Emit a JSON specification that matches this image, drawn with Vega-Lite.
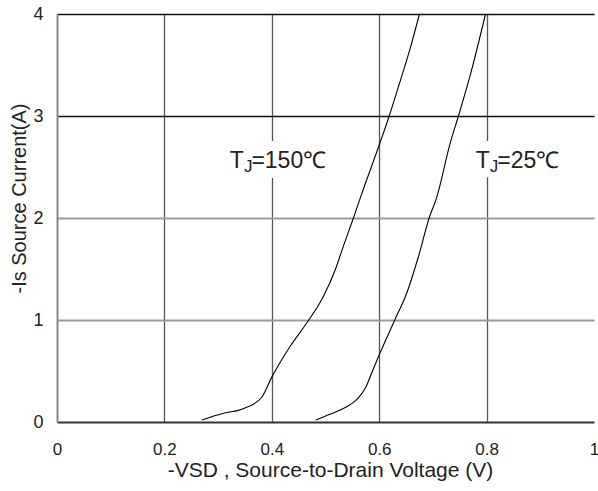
{
  "$schema": "https://vega.github.io/schema/vega-lite/v6.json",
  "width": 537,
  "height": 408,
  "autosize": {"type": "none"},
  "padding": {"left": 57, "top": 14, "right": 4, "bottom": 69},
  "background": "white",
  "config": {"view": {"stroke": null}, "font": "Liberation Sans"},
  "datasets": {
    "curves": [
      {"tj": "150", "v": 0.27, "i": 0.02},
      {"tj": "150", "v": 0.31, "i": 0.085},
      {"tj": "150", "v": 0.347, "i": 0.13},
      {"tj": "150", "v": 0.381, "i": 0.24},
      {"tj": "150", "v": 0.4, "i": 0.44},
      {"tj": "150", "v": 0.434, "i": 0.74},
      {"tj": "150", "v": 0.465, "i": 0.97},
      {"tj": "150", "v": 0.496, "i": 1.23},
      {"tj": "150", "v": 0.518, "i": 1.49},
      {"tj": "150", "v": 0.533, "i": 1.72},
      {"tj": "150", "v": 0.552, "i": 2.0},
      {"tj": "150", "v": 0.565, "i": 2.2},
      {"tj": "150", "v": 0.601, "i": 2.73},
      {"tj": "150", "v": 0.618, "i": 2.99},
      {"tj": "150", "v": 0.636, "i": 3.29},
      {"tj": "150", "v": 0.657, "i": 3.65},
      {"tj": "150", "v": 0.675, "i": 4.0},
      {"tj": "25", "v": 0.482, "i": 0.02},
      {"tj": "25", "v": 0.508, "i": 0.075},
      {"tj": "25", "v": 0.536, "i": 0.14},
      {"tj": "25", "v": 0.558, "i": 0.22},
      {"tj": "25", "v": 0.574, "i": 0.33},
      {"tj": "25", "v": 0.586, "i": 0.48},
      {"tj": "25", "v": 0.601, "i": 0.67},
      {"tj": "25", "v": 0.629, "i": 1.0},
      {"tj": "25", "v": 0.651, "i": 1.26},
      {"tj": "25", "v": 0.673, "i": 1.62},
      {"tj": "25", "v": 0.693, "i": 2.0},
      {"tj": "25", "v": 0.707, "i": 2.2},
      {"tj": "25", "v": 0.732, "i": 2.73},
      {"tj": "25", "v": 0.747, "i": 2.99},
      {"tj": "25", "v": 0.769, "i": 3.39},
      {"tj": "25", "v": 0.798, "i": 4.0}
    ],
    "labels": [
      {"v": 0.348, "i": 2.487, "t": "T", "j": "J", "rest": "=150℃"},
      {"v": 0.806, "i": 2.487, "t": "T", "j": "J", "rest": "=25℃"}
    ]
  },
  "layer": [
    {
      "data": {"name": "curves"},
      "mark": {"type": "line", "color": "black", "strokeWidth": 1.1, "interpolate": "monotone"},
      "encoding": {
        "x": {
          "field": "v", "type": "quantitative",
          "scale": {"domain": [0, 1], "nice": false},
          "axis": {
            "values": [0, 0.2, 0.4, 0.6, 0.8, 1],
            "format": "~g",
            "title": "-VSD , Source-to-Drain Voltage (V)",
            "titleFontSize": 21, "titleFontWeight": "normal", "titleColor": "#222",
            "titleBaseline": "alphabetic", "titleY": 54, "titleX": 273,
            "labelFontSize": 17, "labelColor": "#222", "labelPadding": 19,
            "labelFlush": false, "labelOverlap": false, "labelBound": false,
            "tickSize": 0, "ticks": false,
            "domainColor": "#333", "domainWidth": 2,
            "grid": true,
            "gridColor": {"condition": {"test": "datum.value > 0.01 && datum.value < 0.99", "value": "#555"}, "value": "rgba(0,0,0,0)"},
            "gridWidth": 1.3
          }
        },
        "y": {
          "field": "i", "type": "quantitative",
          "scale": {"domain": [0, 4], "nice": false},
          "axis": {
            "values": [0, 1, 2, 3, 4],
            "format": "~g",
            "title": "-Is Source Current(A)",
            "titleFontSize": 20, "titleFontWeight": "normal", "titleColor": "#222",
            "titleBaseline": "alphabetic", "titleX": -32, "titleY": 184, "titleAngle": -90,
            "labelFontSize": 18, "labelColor": "#222", "labelPadding": 14,
            "labelFlush": false, "labelOverlap": false, "labelBound": false,
            "tickSize": 0, "ticks": false,
            "domainColor": "#888", "domainWidth": 2,
            "grid": true,
            "gridColor": {"condition": [{"test": "datum.value >= 2.5", "value": "#111"}, {"test": "datum.value > 0.5", "value": "#999"}], "value": "rgba(0,0,0,0)"},
            "gridWidth": {"condition": {"test": "datum.value >= 2.5", "value": 1.4}, "value": 2}
          }
        },
        "detail": {"field": "tj"}
      }
    },
    {
      "data": {"name": "labels"},
      "mark": {"type": "text", "align": "right", "baseline": "alphabetic", "fontSize": 23, "fill": "white", "stroke": "white", "strokeWidth": 20, "strokeJoin": "round"},
      "encoding": {"x": {"field": "v", "type": "quantitative"}, "y": {"field": "i", "type": "quantitative"}, "text": {"field": "t"}}
    },
    {
      "data": {"name": "labels"},
      "mark": {"type": "text", "align": "left", "baseline": "alphabetic", "fontSize": 23, "dx": 7.5, "fill": "white", "stroke": "white", "strokeWidth": 20, "strokeJoin": "round"},
      "encoding": {"x": {"field": "v", "type": "quantitative"}, "y": {"field": "i", "type": "quantitative"}, "text": {"field": "rest"}}
    },
    {
      "data": {"name": "labels"},
      "mark": {"type": "text", "align": "right", "baseline": "alphabetic", "fontSize": 23, "color": "#222"},
      "encoding": {"x": {"field": "v", "type": "quantitative"}, "y": {"field": "i", "type": "quantitative"}, "text": {"field": "t"}}
    },
    {
      "data": {"name": "labels"},
      "mark": {"type": "text", "align": "left", "baseline": "alphabetic", "fontSize": 17, "dy": 4, "color": "#222"},
      "encoding": {"x": {"field": "v", "type": "quantitative"}, "y": {"field": "i", "type": "quantitative"}, "text": {"field": "j"}}
    },
    {
      "data": {"name": "labels"},
      "mark": {"type": "text", "align": "left", "baseline": "alphabetic", "fontSize": 23, "dx": 7.5, "color": "#222"},
      "encoding": {"x": {"field": "v", "type": "quantitative"}, "y": {"field": "i", "type": "quantitative"}, "text": {"field": "rest"}}
    }
  ]
}
